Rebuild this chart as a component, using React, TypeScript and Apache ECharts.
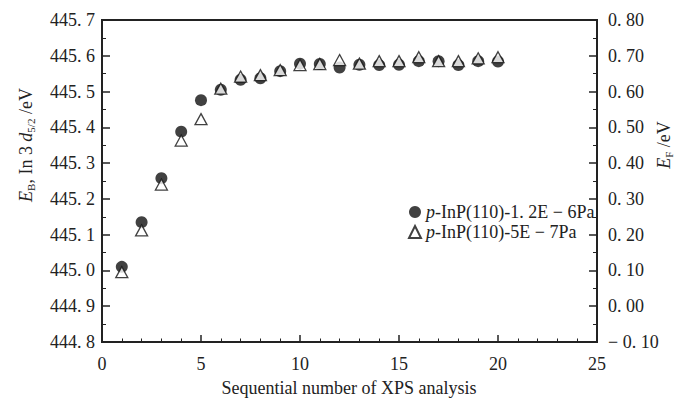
import React, { useEffect, useRef } from "react";
import * as echarts from "echarts";

const xValues = [1, 2, 3, 4, 5, 6, 7, 8, 9, 10, 11, 12, 13, 14, 15, 16, 17, 18, 19, 20];
const seriesNames = ["p-InP(110)-1. 2E − 6Pa", "p-InP(110)-5E − 7Pa"];
const valuesHighP = [
  445.01, 445.135, 445.258, 445.388, 445.476, 445.505, 445.533, 445.537, 445.557, 445.578,
  445.577, 445.567, 445.575, 445.574, 445.575, 445.585, 445.585, 445.574, 445.585, 445.584,
];
const valuesLowP = [
  444.995, 445.112, 445.24, 445.363, 445.423, 445.508, 445.542, 445.546, 445.56, 445.574,
  445.577, 445.588, 445.578, 445.585, 445.585, 445.596, 445.585, 445.585, 445.593, 445.596,
];
const xTitle = "Sequential number of XPS analysis";

const FONT = "'Liberation Serif', 'DejaVu Serif', serif";
const INK = "#222";

export default function App() {
  const ref = useRef<HTMLDivElement>(null);
  useEffect(() => {
    document.body.style.margin = "0";
    const chart = echarts.init(ref.current!, null, { renderer: "svg" });
    const pairs = (ys: number[]) => xValues.map((x, i) => [x, ys[i]]);
    const axisCommon = {
      axisLine: { show: true, onZero: false, lineStyle: { color: INK, width: 2 } },
      axisTick: { show: true, inside: true, length: 7, lineStyle: { color: INK, width: 1.5 } },
      minorTick: { show: true, length: 3.5, lineStyle: { color: INK, width: 1 } },
      splitLine: { show: false },
      minorSplitLine: { show: false },
    };
    const rich = {
      i: { fontStyle: "italic", fontSize: 18, fontFamily: FONT, lineHeight: 20, verticalAlign: "middle", fill: INK },
      n: { fontSize: 18, fontFamily: FONT, lineHeight: 20, verticalAlign: "middle", fill: INK },
      s: { fontSize: 11, fontFamily: FONT, lineHeight: 20, verticalAlign: "bottom", fill: INK },
    };
    chart.setOption({
      animation: false,
      backgroundColor: "#fff",
      grid: { left: 102, right: 79, top: 20, bottom: 59, show: true, borderColor: INK, borderWidth: 2 },
      xAxis: {
        type: "value",
        min: 0,
        max: 25,
        interval: 5,
        ...axisCommon,
        minorTick: { ...axisCommon.minorTick, splitNumber: 5 },
        axisLabel: { margin: 13, fontSize: 18, fontFamily: FONT, color: INK },
      },
      yAxis: [
        {
          type: "value",
          position: "left",
          min: 444.8,
          max: 445.7,
          interval: 0.1,
          ...axisCommon,
          axisTick: { ...axisCommon.axisTick, length: 8 },
          minorTick: { ...axisCommon.minorTick, splitNumber: 2, length: 4 },
          axisLabel: {
            margin: 7,
            fontSize: 18,
            fontFamily: FONT,
            color: INK,
            formatter: (v: number) => v.toFixed(1).replace(".", ". "),
          },
        },
        {
          type: "value",
          position: "right",
          min: -0.1,
          max: 0.8,
          interval: 0.1,
          ...axisCommon,
          axisTick: { ...axisCommon.axisTick, length: 8 },
          minorTick: { ...axisCommon.minorTick, splitNumber: 2, length: 4 },
          axisLabel: {
            margin: 11,
            fontSize: 18,
            fontFamily: FONT,
            color: INK,
            formatter: (v: number) => {
              const r = Math.round(v * 100) / 100;
              return (r < 0 ? "− " : "") + Math.abs(r).toFixed(2).replace(".", ". ");
            },
          },
        },
      ],
      legend: {
        orient: "vertical",
        left: 403,
        top: 198,
        itemWidth: 12,
        itemHeight: 12,
        itemGap: 2,
        data: seriesNames,
        formatter: (name: string) => "{i|p}{n|" + name.slice(1) + "}",
        textStyle: {
          fontSize: 18,
          fontFamily: FONT,
          color: INK,
          rich: {
            i: { fontStyle: "italic", fontSize: 18, fontFamily: FONT, color: INK },
            n: { fontSize: 18, fontFamily: FONT, color: INK },
          },
        },
      },
      series: [
        {
          name: seriesNames[0],
          type: "scatter",
          yAxisIndex: 0,
          symbol: "circle",
          symbolSize: 12,
          itemStyle: { color: "#111" },
          data: pairs(valuesHighP),
          z: 2,
        },
        {
          name: seriesNames[1],
          type: "scatter",
          yAxisIndex: 0,
          symbol: "triangle",
          symbolSize: [12, 11],
          itemStyle: { color: "#fff", borderColor: "#111", borderWidth: 1.3 },
          data: pairs(valuesLowP),
          z: 3,
        },
      ],
      graphic: [
        {
          type: "text",
          x: 26,
          y: 145,
          rotation: Math.PI / 2,
          style: {
            text: "{i|E}{s|B}{n|, In 3 }{i|d}{s|5/2}{n| /eV}",
            rich,
            align: "center",
            verticalAlign: "middle",
          },
        },
        {
          type: "text",
          x: 664,
          y: 145,
          rotation: Math.PI / 2,
          style: {
            text: "{i|E}{s|F}{n| /eV}",
            rich,
            align: "center",
            verticalAlign: "middle",
          },
        },
        {
          type: "text",
          x: 349,
          y: 388,
          style: {
            text: xTitle,
            fontSize: 18,
            fontFamily: FONT,
            fill: INK,
            align: "center",
            verticalAlign: "middle",
          },
        },
      ],
    });
    return () => chart.dispose();
  }, []);
  return <div ref={ref} style={{ width: 676, height: 401 }} />;
}
